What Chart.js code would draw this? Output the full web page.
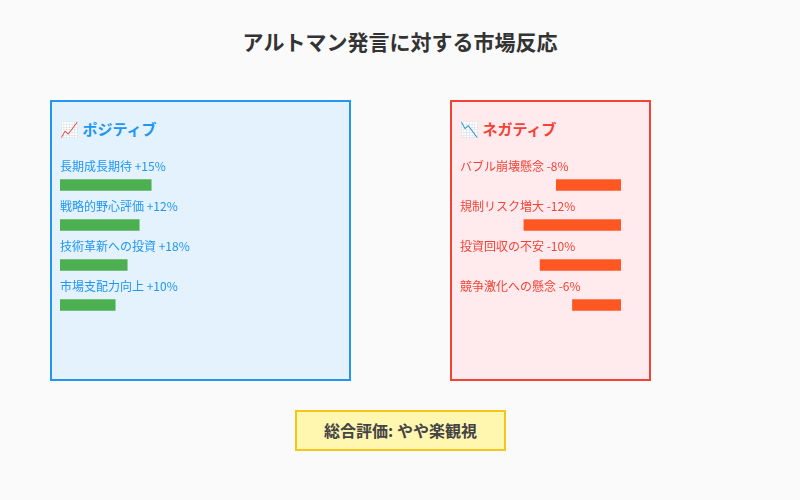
<!DOCTYPE html>
<html><head><meta charset="utf-8">
<script src="https://cdn.jsdelivr.net/npm/chart.js@4"></script>
<style>
body{margin:0;width:800px;height:500px;background:#fafafa;font-family:"Noto Sans CJK JP","Noto Sans",sans-serif;position:relative;overflow:hidden}
.t{position:absolute;left:0;width:800px;top:26px;text-align:center;font-size:21px;font-weight:bold;color:#333}
.box{position:absolute;box-sizing:border-box;border:2px solid}
.h{position:absolute;font-size:15px;font-weight:bold}
canvas{position:absolute}
.sum{position:absolute;left:295px;top:410px;width:211px;height:41px;box-sizing:border-box;border:2px solid #f5c518;background:#fff6b0;text-align:center;line-height:36px;font-size:16px;font-weight:bold;color:#444}
</style></head><body>
<div class="t">アルトマン発言に対する市場反応</div>
<div class="box" style="left:50px;top:100px;width:301px;height:281px;border-color:#2196f3;background:#e3f2fd"></div>
<div class="box" style="left:450px;top:100px;width:201px;height:281px;border-color:#f44336;background:#ffebee"></div>
<div class="h" style="left:60px;top:118px;color:#2196f3">📈 ポジティブ</div>
<div class="h" style="left:460px;top:118px;color:#f44336">📉 ネガティブ</div>
<canvas id="p" width="280" height="180" style="left:60px;top:145px"></canvas>
<canvas id="n" width="161" height="180" style="left:460px;top:145px"></canvas>
<div class="sum">総合評価: やや楽観視</div>
<script>
const posLabels=["長期成長期待 +15%","戦略的野心評価 +12%","技術革新への投資 +18%","市場支配力向上 +10%"];
const posBars=[11.4,9.9,8.4,6.9];
const negLabels=["バブル崩壊懸念 -8%","規制リスク増大 -12%","投資回収の不安 -10%","競争激化への懸念 -6%"];
const negBars=[8,12,10,6];
function mk(id,labels,vals,color,txt,max,rev){
 new Chart(document.getElementById(id),{type:'bar',
  data:{labels:labels,datasets:[{data:vals,backgroundColor:color,barThickness:11}]},
  options:{indexAxis:'y',responsive:false,animation:false,layout:{padding:{top:20}},
   plugins:{legend:{display:false},tooltip:{enabled:false}},
   scales:{x:{display:false,min:0,max:max,reverse:rev},y:{display:false}}},
  plugins:[{id:'lbl',afterDatasetsDraw(c){const ctx=c.ctx;ctx.save();ctx.font='12px "Noto Sans CJK JP"';ctx.fillStyle=txt;ctx.textBaseline='middle';
   c.getDatasetMeta(0).data.forEach((b,i)=>{ctx.fillText(labels[i],c.chartArea.left,b.y-19);});ctx.restore();}}]});
}
mk('p',posLabels,posBars,'#4caf50','#2196f3',35,false);
mk('n',negLabels,negBars,'#ff5722','#f44336',19.9,true);
</script></body></html>
